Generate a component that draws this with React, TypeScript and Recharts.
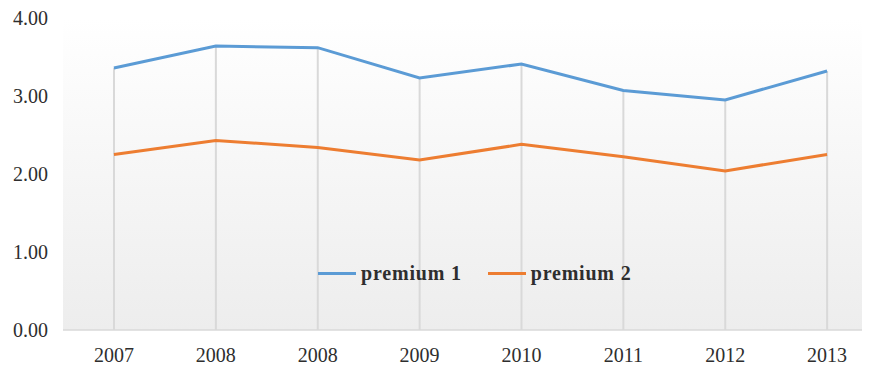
import { ComposedChart, Line, Bar, XAxis, YAxis, CartesianGrid, Legend } from "recharts";

const years = ["2007", "2008", "2008", "2009", "2010", "2011", "2012", "2013"];
const premium1 = [3.36, 3.64, 3.62, 3.23, 3.41, 3.07, 2.95, 3.32];
const premium2 = [2.25, 2.43, 2.34, 2.18, 2.38, 2.22, 2.04, 2.25];
const yTicks = [0, 1, 2, 3, 4];

const data = years.map((year, i) => ({
  year,
  key: `${year}-${i}`,
  "premium 1": premium1[i],
  "premium 2": premium2[i],
}));

const FONT = '"Liberation Serif", "Times New Roman", serif';
const TEXT = "#2e2e2e";

const LegendContent = ({ payload }: any) => {
  const items = (payload || []).filter((p: any) => p.type !== "none");
  return (
    <div style={{ display: "flex", alignItems: "center", fontFamily: FONT }}>
      {items.map((item: any) => (
        <div key={item.value} style={{ display: "flex", alignItems: "center", marginRight: 26 }}>
          <span style={{ display: "inline-block", width: 38, height: 3, background: item.color, marginRight: 5 }} />
          <span style={{ fontSize: 20, fontWeight: "bold", color: TEXT, letterSpacing: 0.8 }}>{item.value}</span>
        </div>
      ))}
    </div>
  );
};

export default function App() {
  return (
    <div style={{ margin: -8, width: 870, height: 370, overflow: "hidden", background: "#fff" }}>
      <ComposedChart
        width={880}
        height={370}
        data={data}
        margin={{ top: 18, right: 2, left: 8, bottom: 0 }}
      >
        <defs>
          <linearGradient id="plotBg" x1="0" y1="0" x2="0" y2="1">
            <stop offset="0%" stopColor="#ffffff" />
            <stop offset="100%" stopColor="#ededed" />
          </linearGradient>
        </defs>
        <CartesianGrid horizontal={false} vertical={false} fill="url(#plotBg)" />
        <XAxis
          dataKey="key"
          tickFormatter={(v: string) => v.split("-")[0]}
          height={40}
          axisLine={{ stroke: "#d9d9d9", strokeWidth: 1.5 }}
          tickLine={false}
          tickMargin={12}
          tick={{ fontSize: 20, fill: TEXT, fontFamily: FONT }}
        />
        <YAxis
          domain={[0, 4]}
          ticks={yTicks}
          width={55}
          axisLine={false}
          tickLine={false}
          tickMargin={9}
          tickFormatter={(v: number) => v.toFixed(2)}
          tick={{ fontSize: 20, fill: TEXT, fontFamily: FONT }}
        />
        <Bar
          dataKey="premium 1"
          barSize={2}
          fill="#d9d9d9"
          legendType="none"
          isAnimationActive={false}
        />
        <Line
          type="linear"
          dataKey="premium 1"
          stroke="#5b9bd5"
          strokeWidth={3}
          dot={false}
          isAnimationActive={false}
        />
        <Line
          type="linear"
          dataKey="premium 2"
          stroke="#ed7d31"
          strokeWidth={3}
          dot={false}
          isAnimationActive={false}
        />
        <Legend
          verticalAlign="middle"
          content={<LegendContent />}
          wrapperStyle={{ position: "absolute", left: 318, top: 262, width: "auto", bottom: "auto" }}
        />
      </ComposedChart>
    </div>
  );
}
